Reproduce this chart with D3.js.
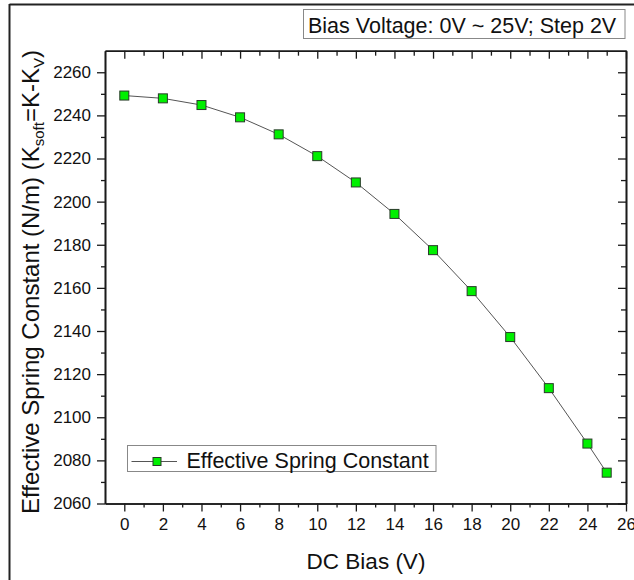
<!DOCTYPE html>
<html>
<head>
<meta charset="utf-8">
<script src="https://cdn.jsdelivr.net/npm/d3@7"></script>
<style>
  html, body { margin: 0; padding: 0; background: #fff; }
  svg { display: block; font-family: "Liberation Sans", Arial, sans-serif; }
</style>
</head>
<body>
<svg id="chart" width="634" height="580"></svg>
<script>
// DC bias sweep (V) and the resulting effective spring constant (N/m)
const biasVoltage = [0, 2, 4, 6, 8, 10, 12, 14, 16, 18, 20, 22, 24, 25];
const springConstant = [2249.2, 2247.9, 2244.8, 2239.1, 2231.2, 2221.1, 2208.9, 2194.3, 2177.5, 2158.5, 2137.2, 2113.5, 2087.8, 2074.3];
const xTickValues = [0, 2, 4, 6, 8, 10, 12, 14, 16, 18, 20, 22, 24, 26];
const yTickValues = [2060, 2080, 2100, 2120, 2140, 2160, 2180, 2200, 2220, 2240, 2260];
const seriesName = "Effective Spring Constant";
const noteText = "Bias Voltage: 0V ~ 25V; Step 2V";

const svg = d3.select("#chart");
const plot = { left: 105, right: 626, top: 50.7, bottom: 503.5 };
const axisColor = "#1a1a1a";
const fontFamily = "Liberation Sans, Arial, sans-serif";

const x = d3.scaleLinear().domain([-1, 26]).range([plot.left, plot.right]);
const y = d3.scaleLinear().domain([2060, 2270]).range([plot.bottom, plot.top]);

const xMinor = d3.range(1, 26, 2);
const yMinor = d3.range(2070, 2270, 20);

// outer frame (top and left edges)
svg.append("line").attr("x1", 9.5).attr("x2", 634).attr("y1", 4.5).attr("y2", 4.5)
  .attr("stroke", "#222").attr("stroke-width", 2);
svg.append("line").attr("x1", 9.5).attr("x2", 9.5).attr("y1", 4).attr("y2", 580)
  .attr("stroke", "#222").attr("stroke-width", 2);

// bottom axis: labels plus outward ticks
const bottomAxis = d3.axisBottom(x).tickValues(xTickValues).tickFormat(d3.format("d"))
  .tickSize(8).tickSizeOuter(0).tickPadding(6);
const gx = svg.append("g").attr("transform", `translate(0,${plot.bottom})`).call(bottomAxis);
gx.selectAll("text").attr("font-size", 17).attr("fill", "#111").attr("font-family", fontFamily);
gx.append("g").call(d3.axisBottom(x).tickValues(xMinor).tickSize(4).tickFormat("").tickSizeOuter(0));

// top axis: inward ticks only
const gxt = svg.append("g").attr("transform", `translate(0,${plot.top})`)
  .call(d3.axisTop(x).tickValues(xTickValues).tickSize(-8).tickFormat("").tickSizeOuter(0));
gxt.append("g").call(d3.axisTop(x).tickValues(xMinor).tickSize(-5).tickFormat("").tickSizeOuter(0));

// left axis: labels plus outward ticks
const gy = svg.append("g").attr("transform", `translate(${plot.left},0)`)
  .call(d3.axisLeft(y).tickValues(yTickValues).tickFormat(d3.format("d"))
    .tickSize(8).tickSizeOuter(0).tickPadding(6));
gy.selectAll("text").attr("font-size", 17).attr("fill", "#111").attr("font-family", fontFamily);
gy.append("g").call(d3.axisLeft(y).tickValues(yMinor).tickSize(4).tickFormat("").tickSizeOuter(0));

// right axis: inward ticks only
const gyr = svg.append("g").attr("transform", `translate(${plot.right},0)`)
  .call(d3.axisRight(y).tickValues(yTickValues).tickSize(-8).tickFormat("").tickSizeOuter(0));
gyr.append("g").call(d3.axisRight(y).tickValues(yMinor).tickSize(-5).tickFormat("").tickSizeOuter(0));

svg.selectAll(".domain").attr("stroke", axisColor).attr("stroke-width", 1.6);
svg.selectAll(".tick line").attr("stroke", axisColor).attr("stroke-width", 1.3);

// axis titles
svg.append("text").attr("x", 366).attr("y", 569).attr("text-anchor", "middle")
  .attr("font-size", 22.5).attr("fill", "#111").text("DC Bias (V)");

const yTitle = svg.append("text")
  .attr("transform", "translate(38.5,282) rotate(-90)")
  .attr("text-anchor", "middle").attr("font-size", 24).attr("fill", "#111");
yTitle.append("tspan").text("Effective Spring Constant (N/m) (K");
yTitle.append("tspan").attr("font-size", 15).attr("dy", 5).text("soft");
yTitle.append("tspan").attr("dy", -5).text("=K-K");
yTitle.append("tspan").attr("font-size", 15).attr("dy", 5).text("V");
yTitle.append("tspan").attr("dy", -5).text(")");

// data series
const points = biasVoltage.map((v, i) => ({ v, k: springConstant[i] }));
svg.append("path").datum(points)
  .attr("fill", "none").attr("stroke", "#555").attr("stroke-width", 1)
  .attr("d", d3.line().x(d => x(d.v)).y(d => y(d.k)));

const markerSize = 9;
svg.append("g").selectAll("rect").data(points).join("rect")
  .attr("x", d => x(d.v) - markerSize / 2).attr("y", d => y(d.k) - markerSize / 2)
  .attr("width", markerSize).attr("height", markerSize)
  .attr("fill", "#00f000").attr("stroke", "#2a3a2a").attr("stroke-width", 1);

// legend
const legend = svg.append("g");
legend.append("rect").attr("x", 127.5).attr("y", 445.5).attr("width", 308.5).attr("height", 26)
  .attr("fill", "#fff").attr("stroke", "#888").attr("stroke-width", 1);
legend.append("line").attr("x1", 131.5).attr("x2", 177).attr("y1", 461.5).attr("y2", 461.5)
  .attr("stroke", "#555").attr("stroke-width", 1);
legend.append("rect").attr("x", 153).attr("y", 457.5).attr("width", 8).attr("height", 8)
  .attr("fill", "#00f000").attr("stroke", "#2a3a2a").attr("stroke-width", 1);
legend.append("text").attr("x", 186.5).attr("y", 468).attr("font-size", 21.5)
  .attr("fill", "#111").text(seriesName);

// note box
const note = svg.append("g");
note.append("rect").attr("x", 303.5).attr("y", 9.5).attr("width", 321.5).attr("height", 29)
  .attr("fill", "#fff").attr("stroke", "#888").attr("stroke-width", 1);
note.append("text").attr("x", 308).attr("y", 33).attr("font-size", 21.5)
  .attr("fill", "#111").text(noteText);
</script>
</body>
</html>
